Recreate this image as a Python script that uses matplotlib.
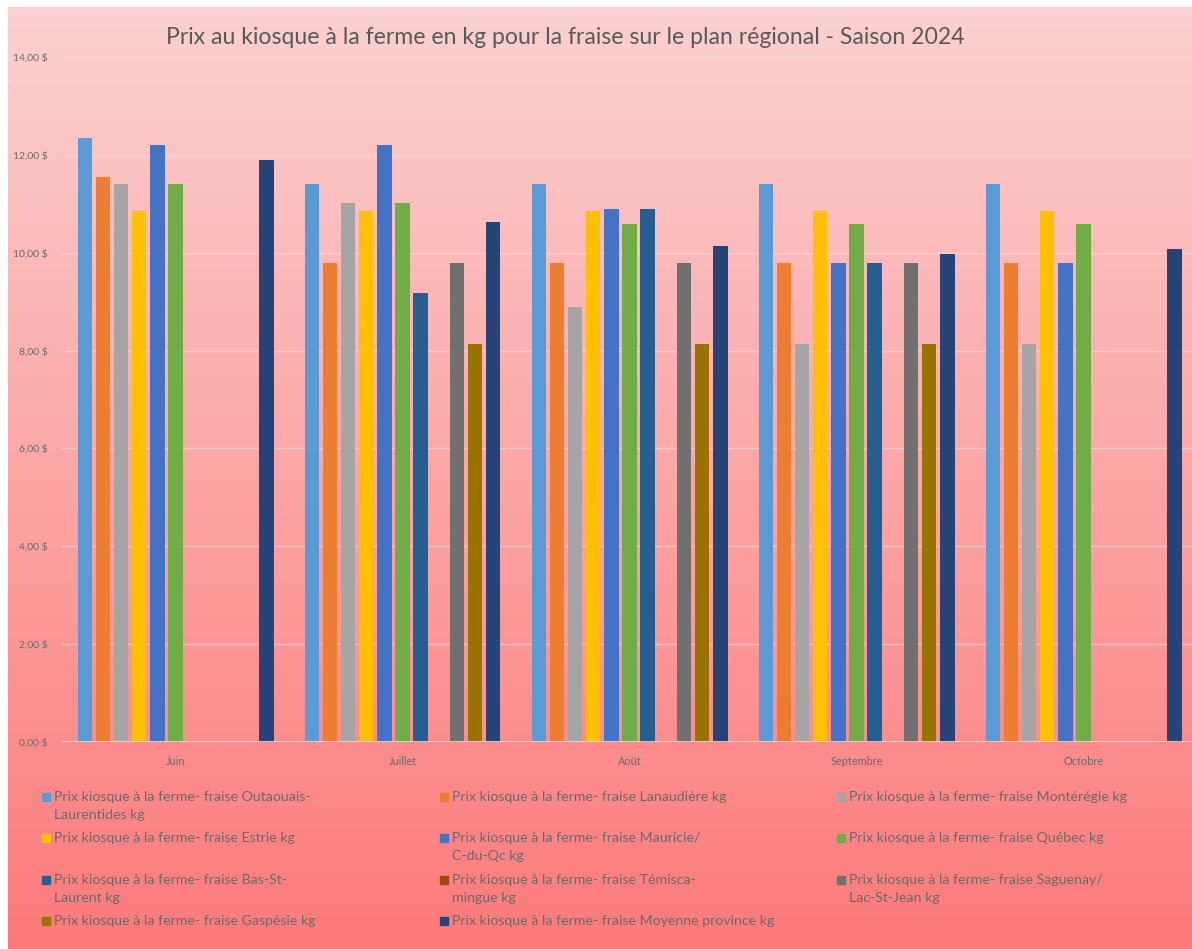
import numpy as np
import matplotlib
matplotlib.use("Agg")
import matplotlib.pyplot as plt
from matplotlib.patches import Rectangle

plt.rcParams['font.family'] = ['Lato', 'DejaVu Sans']

months = ["Juin", "Juillet", "Août", "Septembre", "Octobre"]
labels = [
    "Prix kiosque à la ferme- fraise Outaouais-\nLaurentides kg",
    "Prix kiosque à la ferme- fraise Lanaudière kg",
    "Prix kiosque à la ferme- fraise Montérégie kg",
    "Prix kiosque à la ferme- fraise Estrie kg",
    "Prix kiosque à la ferme- fraise Mauricie/\nC-du-Qc kg",
    "Prix kiosque à la ferme- fraise Québec kg",
    "Prix kiosque à la ferme- fraise Bas-St-\nLaurent kg",
    "Prix kiosque à la ferme- fraise Témisca-\nmingue kg",
    "Prix kiosque à la ferme- fraise Saguenay/\nLac-St-Jean kg",
    "Prix kiosque à la ferme- fraise Gaspésie kg",
    "Prix kiosque à la ferme- fraise Moyenne province kg",
]
nan = np.nan
outaouais = [12.35, 11.40, 11.40, 11.40, 11.40]
lanaudiere = [11.55, 9.78, 9.78, 9.78, 9.78]
monteregie = [11.40, 11.02, 8.90, 8.14, 8.14]
estrie = [10.86, 10.86, 10.86, 10.86, 10.86]
mauricie = [12.20, 12.20, 10.90, 9.78, 9.78]
quebec = [11.40, 11.02, 10.58, 10.58, 10.58]
bas_st_laurent = [nan, 9.17, 10.90, 9.78, nan]
temiscamingue = [nan, nan, nan, nan, nan]
saguenay = [nan, 9.78, 9.78, 9.78, nan]
gaspesie = [nan, 8.14, 8.14, 8.14, nan]
moyenne = [11.90, 10.63, 10.14, 9.98, 10.08]
series = [outaouais, lanaudiere, monteregie, estrie, mauricie, quebec,
          bas_st_laurent, temiscamingue, saguenay, gaspesie, moyenne]
colors = ["#5B9BD5", "#ED7D31", "#A5A5A5", "#FFC000", "#4472C4", "#70AD47",
          "#255E91", "#9E480E", "#707070", "#997300", "#264478"]
yticks = [0, 2, 4, 6, 8, 10, 12, 14]

W, H = 1192, 949
fig = plt.figure(figsize=(W / 100, H / 100), dpi=100, facecolor="white")

# gradient background panel
bg = fig.add_axes([8 / W, 0, 1 - 8 / W, 1 - 7 / H])
bg.set_axis_off()
top = np.array([251, 209, 209]) / 255
bot = np.array([253, 122, 122]) / 255
t = np.linspace(0, 1, 256)[:, None]
grad = top[None, :] * (1 - t) + bot[None, :] * t
bg.imshow(grad[:, None, :], aspect="auto", extent=[0, 1, 0, 1], origin="upper")
bg.set_xlim(0, 1); bg.set_ylim(0, 1)

# plot area
x_left, x_right = 62, 1192
y_zero, y_top = 742, 57
ax = fig.add_axes([x_left / W, (H - y_zero) / H, (x_right - x_left) / W, (y_zero - y_top) / H])
ax.patch.set_alpha(0)
n = len(series)
slot = 18.15 / 227
bw = 14.5 / 227
x = np.arange(len(months))
for k, (vals, c) in enumerate(zip(series, colors)):
    ax.bar(x + (k - (n - 1) / 2) * slot, vals, width=bw, color=c, zorder=3)
ax.set_xlim(-0.5, (x_right - x_left) / 227 - 0.5)
ax.set_ylim(0, 14)
ax.set_yticks(yticks)
ax.set_yticklabels([f"{v:.2f}".replace(".", ",") + " $" for v in yticks],
                   fontsize=7.5, color="#6a6a6a")
ax.set_xticks(x)
ax.set_xticklabels(months, fontsize=7.8, color="#6a6a6a")
ax.tick_params(length=0, axis="y", pad=10)
ax.tick_params(length=0, axis="x", pad=10)
ax.grid(axis="y", color="#f7dede", linewidth=1, alpha=0.6, zorder=0)
ax.axhline(0, color="#f0d8d8", linewidth=1.2, zorder=4)
for s in ax.spines.values():
    s.set_visible(False)

fig.text(565 / W, 1 - 37 / H, "Prix au kiosque à la ferme en kg pour la fraise sur le plan régional - Saison 2024",
         ha="center", va="center", fontsize=16.6, color="#595959")

# legend (row-major, 3 columns)
col_x = [42, 440, 837]
row_y = [797, 838, 880, 921]
for i, (lab, c) in enumerate(zip(labels, colors)):
    r, cc = divmod(i, 3)
    mx, my = col_x[cc], row_y[r]
    fig.patches.append(Rectangle((mx / W, 1 - (my + 4) / H), 8 / W, 8 / H,
                                 transform=fig.transFigure, color=c, figure=fig))
    fig.text((mx + 12) / W, 1 - (my - 6) / H, lab, ha="left", va="top",
             fontsize=10.2, color="#6a6a6a", linespacing=1.62)

fig.savefig("out.png", dpi=100, facecolor="white")
